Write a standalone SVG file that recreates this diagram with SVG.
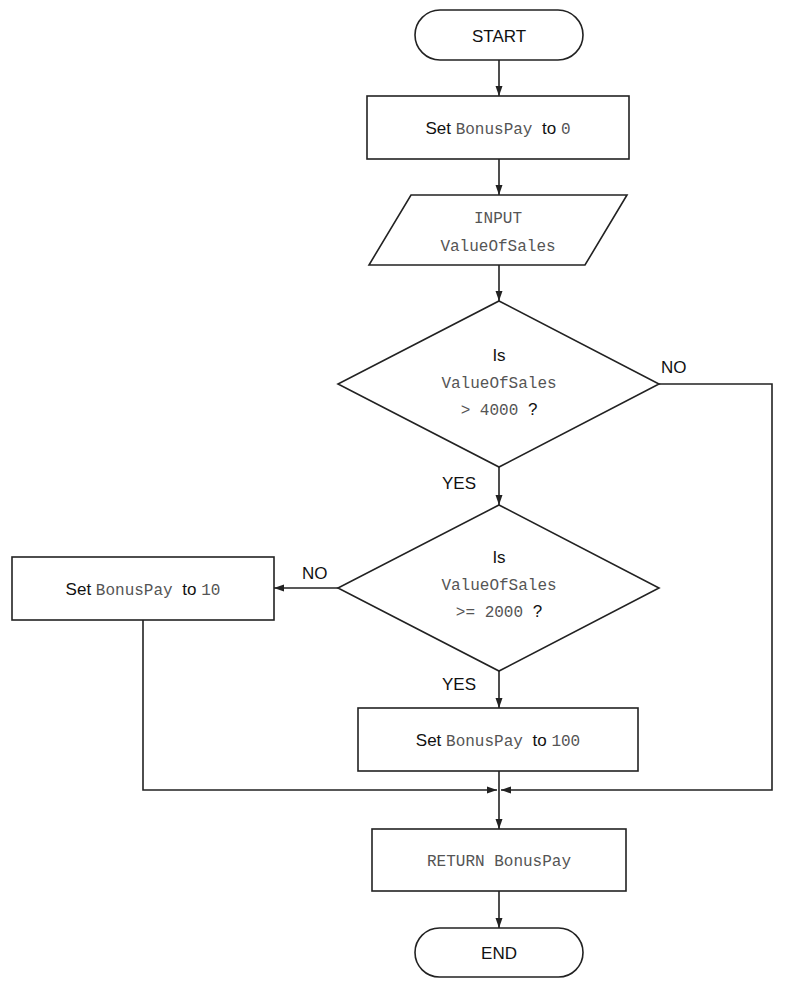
<svg xmlns="http://www.w3.org/2000/svg" width="787" height="994" viewBox="0 0 787 994">
<style>
.s{fill:#fff;stroke:#222;stroke-width:1.6}
.t{font-family:"Liberation Sans",Arial,sans-serif;font-size:17px;fill:#111}
.m{font-family:"Liberation Mono","Courier New",monospace;font-size:16px;fill:#555}
.c{fill:none;stroke:#222;stroke-width:1.6}
</style>
<defs><marker id="a" viewBox="0 0 10 10" refX="10" refY="5" markerWidth="10" markerHeight="10" markerUnits="userSpaceOnUse" orient="auto"><path d="M0,1.5L10,5L0,8.5z" fill="#222"/></marker></defs>
<rect width="787" height="994" fill="#fff"/>
<g id="connectors">
<path class="c" d="M499,60V96" marker-end="url(#a)"/>
<path class="c" d="M499,159V195" marker-end="url(#a)"/>
<path class="c" d="M499,265V301" marker-end="url(#a)"/>
<path class="c" d="M499,467V505" marker-end="url(#a)"/>
<path class="c" d="M659,384H772V790H501" marker-end="url(#a)"/>
<path class="c" d="M338,588H274" marker-end="url(#a)"/>
<path class="c" d="M143,620V790H497" marker-end="url(#a)"/>
<path class="c" d="M499,671V708" marker-end="url(#a)"/>
<path class="c" d="M499,771V829" marker-end="url(#a)"/>
<path class="c" d="M499,891V928" marker-end="url(#a)"/>
<text class="t" x="661" y="373">NO</text>
<text class="t" x="442" y="489">YES</text>
<text class="t" x="302" y="579">NO</text>
<text class="t" x="442" y="690">YES</text>
</g>
<g id="start"><rect class="s" x="415" y="10" width="168" height="50" rx="25"/><text class="t" x="499" y="42" text-anchor="middle">START</text></g>
<g id="set0"><rect class="s" x="367" y="96" width="262" height="63"/><text x="498" y="134" text-anchor="middle"><tspan class="t">Set </tspan><tspan class="m">BonusPay </tspan><tspan class="t">to </tspan><tspan class="m">0</tspan></text></g>
<g id="input"><path class="s" d="M411,195H627L585,265H369z"/><text class="m" x="498" y="223" text-anchor="middle">INPUT</text><text class="m" x="498" y="251" text-anchor="middle">ValueOfSales</text></g>
<g id="d1"><path class="s" d="M499,301L659,384L499,467L338,384z"/><text class="t" x="499" y="361" text-anchor="middle">Is</text><text class="m" x="499" y="388" text-anchor="middle">ValueOfSales</text><text x="499" y="415" text-anchor="middle"><tspan class="m">&gt; 4000 </tspan><tspan class="t">?</tspan></text></g>
<g id="d2"><path class="s" d="M499,505L659,588L499,671L338,588z"/><text class="t" x="499" y="563" text-anchor="middle">Is</text><text class="m" x="499" y="590" text-anchor="middle">ValueOfSales</text><text x="499" y="617" text-anchor="middle"><tspan class="m">&gt;= 2000 </tspan><tspan class="t">?</tspan></text></g>
<g id="set10"><rect class="s" x="12" y="557" width="262" height="63"/><text x="143" y="595" text-anchor="middle"><tspan class="t">Set </tspan><tspan class="m">BonusPay </tspan><tspan class="t">to </tspan><tspan class="m">10</tspan></text></g>
<g id="set100"><rect class="s" x="358" y="708" width="280" height="63"/><text x="498" y="746" text-anchor="middle"><tspan class="t">Set </tspan><tspan class="m">BonusPay </tspan><tspan class="t">to </tspan><tspan class="m">100</tspan></text></g>
<g id="return"><rect class="s" x="372" y="829" width="254" height="62"/><text class="m" x="499" y="866" text-anchor="middle">RETURN BonusPay</text></g>
<g id="end"><rect class="s" x="415" y="928" width="168" height="49" rx="24.5"/><text class="t" x="499" y="959" text-anchor="middle">END</text></g>
</svg>
